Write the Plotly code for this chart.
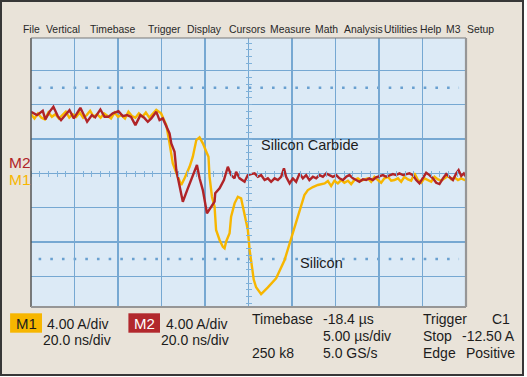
import plotly.graph_objects as go

W, H = 527, 377

# ---------------- data (time in ns, current in A) ----------------
# M1 : Silicon device (yellow trace)
m1_time = [-100, -98.4, -96.8, -95.2, -93.6, -92.0, -90.4, -88.8, -87.2, -85.6,
           -84.0, -82.4, -80.8, -79.2, -77.6, -76.0, -74.4, -72.8, -71.2, -69.6,
           -68.0, -66.4, -64.8, -63.2, -61.6, -60.0, -58.4, -56.8, -55.2, -53.6,
           -52.0, -50.4, -48.8, -47.2, -45.6, -44.0, -42.4,
           -40.2, -37.8, -36.3, -34.8, -32.5, -30.9, -29.4, -27.1, -25.6, -24.0,
           -22.5, -21.0, -19.4, -18.4, -17.9, -16.8, -15.6, -14.9, -13.3, -11.8,
           -11.0, -10.3, -8.7, -8.0, -6.4, -4.9, -3.4, -2.6, -1.8, -0.3,
           0.5, 1.5, 2.4, 3.5, 5.8, 8.9, 12.7, 16.6, 20.4, 22.4,
           24.2, 25.7, 27.3, 29.6, 31.9, 35.0, 36.5,
           38.0, 39.5, 41.1, 42.6, 44.1, 45.7, 47.2, 48.7, 50.3, 51.8,
           53.3, 54.9, 56.4, 57.9, 59.5, 61.0, 62.5, 64.1, 65.6, 67.1,
           68.7, 70.2, 71.7, 73.3, 74.8, 76.3, 77.9, 79.4, 80.9, 82.5,
           84.0, 85.5, 87.1, 88.6, 90.1, 91.7, 93.2, 94.7, 96.3, 97.8,
           99.3, 100]
m1_amps = [6.9, 6.4, 7.0, 6.5, 6.3, 7.1, 6.6, 6.9, 6.4, 6.8,
           7.2, 6.5, 6.9, 6.6, 7.1, 6.5, 6.8, 7.3, 6.6, 6.9,
           6.5, 7.0, 6.7, 6.4, 7.1, 6.6, 6.8, 6.4, 7.2, 6.7,
           6.5, 7.0, 6.6, 7.1, 6.5, 6.9, 7.4,
           7.0, 5.63, 3.50, 1.17, -0.40, -1.36, -0.58, 0.77, 1.94, 3.88,
           4.20, 3.50, 2.52, 1.94, -0.40, -2.73, -3.89, -6.61, -7.78, -8.56,
           -8.75, -7.98, -7.0, -5.06, -3.50, -2.73, -2.92, -3.89, -4.86, -6.61,
           -8.9, -11.0, -12.4, -13.3, -14.1, -13.3, -12.24, -10.11, -7.0, -5.45,
           -3.89, -2.53, -1.95, -1.6, -1.36, -1.17, -0.9,
           -1.48, -0.86, -1.17, -0.78, -1.10, -0.86, -1.25, -0.78, -0.58, -0.86,
           -0.70, -0.58, -0.98, -0.40, -0.78, -1.10, -0.58, -0.40, -0.86, -0.78,
           -0.58, -0.98, -0.40, -0.70, -0.86, 0.0, -0.78, -1.10, -0.58, -0.78,
           -0.98, -0.40, -0.70, -0.86, -0.58, -0.31, -0.70, -0.47, -0.78, -0.58,
           -0.78, -0.70]

# M2 : Silicon Carbide device (red trace)
m2_time = [-100, -97.2, -94.6, -93.4, -91.5, -89.7, -87.7, -86.2, -83.9, -82.3,
           -80.3, -77.3, -74.2, -72.0, -70.5, -68.1, -66.2, -64.4, -62.4, -59.8,
           -57.8, -55.8, -54.0, -52.0, -49.7, -48.1, -46.3,
           -44.7, -42.4, -40.9, -39.4, -37.8, -36.3, -35.5, -34.0, -33.2, -31.7,
           -30.2, -27.9, -25.6, -23.7, -22.5, -21.0, -19.1, -17.2, -15.6, -15.3,
           -13.3, -11.3, -9.5, -8.0, -6.4, -5.7, -4.1, -1.8, -0.3, 1.2,
           2.8, 4.3, 5.8, 7.4, 8.9, 10.4, 12.0, 13.5, 15.0, 16.3,
           17.3, 18.9, 20.4, 21.9, 23.5, 25.0, 26.5, 28.0, 29.6, 31.1,
           32.6, 34.2, 35.7, 37.2,
           38.8, 40.3, 41.8, 43.4, 44.9, 46.4, 48.0, 49.5, 51.0, 52.6,
           54.1, 55.6, 57.2, 58.7, 60.2, 61.8, 63.3, 64.8, 66.4, 67.9,
           69.4, 71.0, 72.5, 74.0, 75.6, 77.1, 78.6, 80.2, 81.7, 83.2,
           84.8, 86.3, 87.8, 89.4, 90.9, 92.4, 94.0, 95.5, 96.6, 97.8,
           99.0, 100]
m2_amps = [7.18, 6.80, 7.30, 6.30, 7.18, 7.77, 6.68, 6.21, 6.91, 7.38,
           6.41, 7.65, 6.02, 6.80, 6.53, 7.46, 6.60, 6.60, 7.00, 7.26,
           6.68, 6.80, 6.60, 5.63, 6.80, 6.53, 6.02,
           6.41, 7.18, 6.21, 6.41, 5.43, 4.66, 3.50, 2.52, 0.38, -1.56,
           -3.31, -1.75, -0.20, 0.97, -0.58, -1.95, -4.66, -3.89, -3.31, -2.33,
           -1.75, -0.78, 0.77, -0.20, -0.58, 0.19, -0.58, -0.98, -0.20, -0.08,
           0.0, -0.40, -0.20, -0.78, -0.58, -0.98, -0.58, -0.78, -0.40, 0.58,
           -0.40, -1.17, -0.58, -0.98, 0.0, -0.58, -0.20, -0.78, -0.40, -0.58,
           -0.20, -0.40, 0.0, -0.20,
           -0.40, -0.20, -0.58, -0.78, -0.40, -0.20, -0.58, -0.78, -0.98, -0.70,
           -0.78, -0.58, -0.78, -0.47, -0.31, -0.20, -0.40, -0.20, -0.08, -0.20,
           0.0, -0.20, -0.08, 0.0, -0.20, -0.78, -1.17, -0.58, 0.07, -0.20,
           -0.58, -1.10, -1.25, -0.58, -0.08, -0.40, -0.78, 0.0, 0.38, -0.31,
           0.0, -0.40]

menu_items = ["File", "Vertical", "Timebase", "Trigger", "Display", "Cursors",
              "Measure", "Math", "Analysis", "Utilities", "Help", "M3", "Setup"]
menu_left_px = [21.8, 45.4, 89.1, 147.2, 185.9, 227.9, 268.9, 314.2, 342.8,
                383.1, 418.8, 445.3, 465.5]

# ---------------- styling ----------------
BEIGE = "rgb(233,227,217)"
SCREEN = "rgb(220,234,246)"
GRID = "rgb(118,168,210)"
TICK = "rgb(128,178,218)"
YELLOW = "rgb(247,182,0)"
RED = "rgb(176,36,40)"
TXT = "rgb(28,28,28)"
FONT = "Liberation Sans, Arial, sans-serif"

PX_L, PX_R, PX_T, PX_B = 31, 466, 38, 307
CX = (PX_L + PX_R) / 2
CY = 173.4


def px(x):
    return x / W


def py(y):
    return 1 - y / H


fig = go.Figure()
fig.add_trace(go.Scatter(x=m1_time, y=m1_amps, mode="lines", name="M1",
                         line=dict(color=YELLOW, width=2.4),
                         hoverinfo="skip", showlegend=False))
fig.add_trace(go.Scatter(x=m2_time, y=m2_amps, mode="lines", name="M2",
                         line=dict(color=RED, width=2.4),
                         hoverinfo="skip", showlegend=False))

fig.update_layout(
    width=W, height=H,
    margin=dict(l=0, r=0, t=0, b=0, pad=0),
    paper_bgcolor=BEIGE, plot_bgcolor=SCREEN,
    showlegend=False,
    xaxis=dict(domain=[px(PX_L), px(PX_R)], range=[-100, 100],
               tick0=0, dtick=20, showgrid=True, gridcolor=GRID, gridwidth=1.3,
               zeroline=False, showticklabels=False, showline=False,
               anchor="free", position=py(CY - 3),
               ticks="outside", ticklen=6, tickwidth=1, tickcolor=TICK,
               minor=dict(dtick=4, ticks="outside", ticklen=6, tickwidth=1,
                          tickcolor=TICK, showgrid=False),
               fixedrange=True),
    yaxis=dict(domain=[py(PX_B), py(PX_T)], range=[-15.6, 15.8],
               tick0=0, dtick=4, showgrid=True, gridcolor=GRID, gridwidth=1.3,
               zeroline=False, showticklabels=False, showline=False,
               anchor="free", position=px(CX + 3),
               ticks="outside", ticklen=6, tickwidth=1, tickcolor=TICK,
               minor=dict(dtick=0.8, ticks="outside", ticklen=6, tickwidth=1,
                          tickcolor=TICK, showgrid=False),
               fixedrange=True),
)

shapes = []
# dotted reference lines at +/- 2.5 div
for lvl in (10, -10):
    shapes.append(dict(type="line", xref="x", yref="y", x0=-96.5, x1=96.8,
                       y0=lvl, y1=lvl,
                       line=dict(color="rgb(105,160,208)", width=2.6,
                                 dash="2.6px,9.07px"), layer="below"))
# screen border
shapes.append(dict(type="line", xref="paper", yref="paper", x0=px(PX_L), x1=px(PX_L),
                   y0=py(PX_B), y1=py(PX_T), line=dict(color="rgb(85,85,85)", width=1.5)))
shapes.append(dict(type="line", xref="paper", yref="paper", x0=px(PX_L), x1=px(PX_R),
                   y0=py(PX_T), y1=py(PX_T), line=dict(color="rgb(120,120,120)", width=1.2)))
shapes.append(dict(type="line", xref="paper", yref="paper", x0=px(PX_R), x1=px(PX_R),
                   y0=py(PX_B), y1=py(PX_T), line=dict(color="rgb(150,150,150)", width=2.2)))
shapes.append(dict(type="line", xref="paper", yref="paper", x0=px(PX_L), x1=px(PX_R),
                   y0=py(PX_B), y1=py(PX_B), line=dict(color="rgb(150,150,150)", width=2.2)))
# outer frame and white margin
shapes.append(dict(type="rect", xref="paper", yref="paper", x0=px(523.5), x1=1,
                   y0=0, y1=1, fillcolor="white", line=dict(width=0)))
shapes.append(dict(type="rect", xref="paper", yref="paper", x0=0, x1=1,
                   y0=0, y1=py(375.8), fillcolor="white", line=dict(width=0)))
shapes.append(dict(type="rect", xref="paper", yref="paper", x0=px(1), x1=px(523),
                   y0=py(375), y1=py(1), line=dict(color="rgb(55,55,55)", width=2)))
# M1 / M2 badges
shapes.append(dict(type="rect", xref="paper", yref="paper", x0=px(10.1), x1=px(42),
                   y0=py(332.7), y1=py(313.3), fillcolor=YELLOW, line=dict(width=0)))
shapes.append(dict(type="rect", xref="paper", yref="paper", x0=px(128.4), x1=px(160),
                   y0=py(332.7), y1=py(313.3), fillcolor="rgb(178,40,45)", line=dict(width=0)))
fig.update_layout(shapes=shapes)

ann = []


def label(text, x, y, size=14, color=TXT, xanchor="left"):
    ann.append(dict(text=text, x=px(x), y=py(y), xref="paper", yref="paper",
                    xanchor=xanchor, yanchor="middle", showarrow=False,
                    font=dict(family=FONT, size=size, color=color)))


for item, x in zip(menu_items, menu_left_px):
    label(item, x - 1, 29.5, size=10.4, color="rgb(40,40,40)")

label("M2", 7, 162.7, size=15.5, color=RED)
label("M1", 7, 179.2, size=15.5, color=YELLOW)
label("Silicon Carbide", 259, 144.5, size=14.5)
label("Silicon", 297.5, 263, size=14.5)

label("M1", 26, 323.3, size=15, xanchor="center")
label("M2", 144.2, 323.3, size=15, color="white", xanchor="center")
label("4.00 A/div", 45, 323.8, size=14)
label("20.0 ns/div", 41, 340.2, size=14)
label("4.00 A/div", 163.5, 323.8, size=14)
label("20.0 ns/div", 159.3, 340.2, size=14)
label("Timebase", 250, 319.2, size=14)
label("-18.4 µs", 320.5, 319.2, size=14)
label("5.00 µs/div", 320.5, 336.2, size=14)
label("250 k8", 250, 352.6, size=14)
label("5.0 GS/s", 320.5, 352.6, size=14)
label("Trigger", 420.5, 319.2, size=14)
label("Stop", 420.5, 336.2, size=14)
label("Edge", 420.5, 352.6, size=14)
label("C1", 511.5, 319.2, size=14, xanchor="right")
label("-12.50 A", 517, 336.2, size=14, xanchor="right")
label("Positive", 517, 352.6, size=14, xanchor="right")
fig.update_layout(annotations=ann)

fig.write_html("out.html",
               config={"displayModeBar": False, "staticPlot": True},
               post_script="document.body.style.margin='0';document.body.style.padding='0';")
